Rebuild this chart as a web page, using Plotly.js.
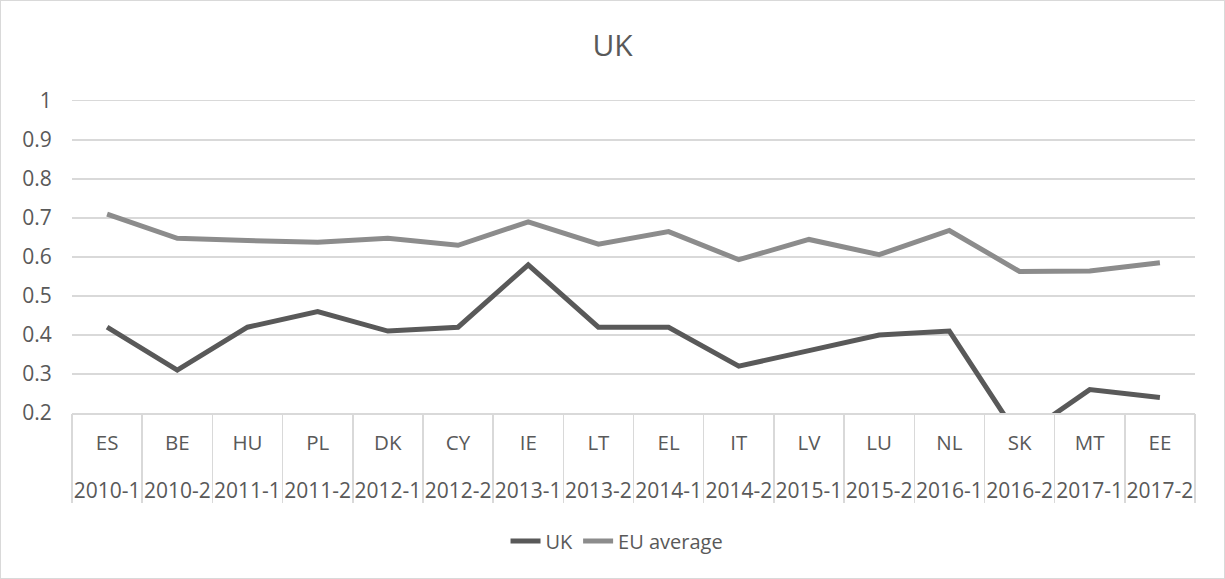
<!DOCTYPE html>
<html>
<head>
<meta charset="utf-8">
<script src="https://cdn.plot.ly/plotly-3.0.1.min.js"></script>
<style>
  html, body { margin: 0; padding: 0; background: #fff; }
  #chart { width: 1225px; height: 579px; box-sizing: border-box; border: 1px solid #d9d9d9; }
</style>
</head>
<body>
<div id="chart"></div>
<script>
const countries = ["ES","BE","HU","PL","DK","CY","IE","LT","EL","IT","LV","LU","NL","SK","MT","EE"];
const periods = ["2010-1","2010-2","2011-1","2011-2","2012-1","2012-2","2013-1","2013-2","2014-1","2014-2","2015-1","2015-2","2016-1","2016-2","2017-1","2017-2"];
const ukValues = [0.42,0.31,0.42,0.46,0.41,0.42,0.58,0.42,0.42,0.32,0.36,0.40,0.41,0.135,0.26,0.24];
const euValues = [0.71,0.648,0.642,0.638,0.648,0.63,0.69,0.633,0.665,0.593,0.645,0.606,0.668,0.563,0.564,0.585];
const yTicks = [0.2,0.3,0.4,0.5,0.6,0.7,0.8,0.9,1];

const FONT = "Open Sans, sans-serif";
const TXT = "#595959";
const GRID = "#d9d9d9";

const xRange = [-0.5, countries.length - 0.5];

const traces = [
  {x: countries, y: ukValues, name: "UK", type: "scatter", mode: "lines",
   line: {color: "#595959", width: 5}},
  {x: countries, y: euValues, name: "EU average", type: "scatter", mode: "lines",
   line: {color: "#8c8c8c", width: 5}},
  // period row of the two-level category axis (carries the axis only)
  {x: periods, y: euValues, xaxis: "x2", type: "scatter", mode: "lines",
   opacity: 0, showlegend: false, hoverinfo: "skip"},
  // category boundary dividers of the two-level category axis
  {x: periods, y: euValues, xaxis: "x3", type: "scatter", mode: "lines",
   opacity: 0, showlegend: false, hoverinfo: "skip"}
];

const layout = {
  width: 1223, height: 577,
  margin: {l: 71, r: 29, t: 100, b: 165},
  paper_bgcolor: "#fff", plot_bgcolor: "#fff",
  font: {family: FONT, color: TXT, size: 20},
  title: {text: "UK", font: {family: FONT, size: 30, color: TXT}, x: 0.5, xanchor: "center", y: 0.923, yanchor: "middle"},
  xaxis: {
    type: "category", range: xRange,
    showgrid: false, zeroline: false,
    showline: true, mirror: true, linecolor: GRID, linewidth: 1.5,
    ticks: "outside", ticklen: 11, tickcolor: "rgba(0,0,0,0)",
    tickangle: 0,
    tickfont: {family: FONT, size: 20.5, color: TXT}
  },
  xaxis2: {
    type: "category", range: xRange, overlaying: "x", anchor: "y", side: "bottom",
    showgrid: false, zeroline: false, showline: false,
    ticks: "outside", ticklen: 59, tickcolor: "rgba(0,0,0,0)",
    tickangle: 0,
    tickfont: {family: FONT, size: 21, color: TXT}
  },
  xaxis3: {
    type: "category", range: xRange, overlaying: "x", anchor: "y", side: "bottom",
    showgrid: false, zeroline: false, showline: false,
    tickson: "boundaries", showticklabels: false,
    ticks: "outside", ticklen: 89, tickcolor: GRID, tickwidth: 1.5
  },
  yaxis: {
    range: [0.2, 1], tickvals: yTicks, ticktext: yTicks.map(String),
    showgrid: true, gridcolor: GRID, gridwidth: 1.5,
    zeroline: false, showline: false,
    ticks: "outside", ticklen: 15, tickcolor: "rgba(0,0,0,0)",
    tickfont: {family: FONT, size: 21, color: TXT}
  },
  showlegend: true,
  legend: {orientation: "h", xref: "container", yref: "container",
           x: 0.5037, xanchor: "center", y: 0.064, yanchor: "middle",
           font: {family: FONT, size: 20, color: TXT}, traceorder: "normal"}
};

Plotly.newPlot("chart", traces, layout, {displayModeBar: false, staticPlot: true});
</script>
</body>
</html>
